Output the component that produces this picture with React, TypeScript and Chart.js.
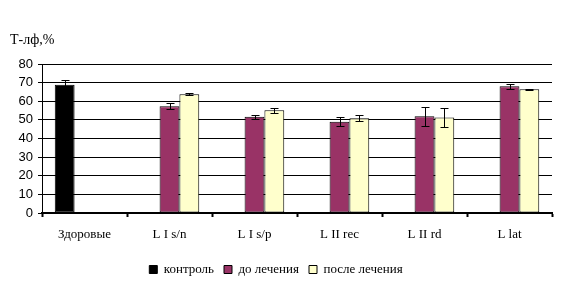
import React, { useEffect, useRef } from "react";
import { Chart, registerables } from "chart.js";

Chart.register(...registerables);

const categories = ["Здоровые", "L I s/n", "L I s/p", "L II rec", "L II rd", "L lat"];
const controlValues = [68.8, null, null, null, null, null];
const controlErrors = [2.5, 0, 0, 0, 0, 0];
const beforeValues = [null, 57.3, 51.7, 49.0, 51.9, 68.0];
const beforeErrors = [0, 1.5, 1.1, 2.3, 5.2, 1.2];
const afterValues = [null, 63.8, 55.2, 50.9, 51.3, 66.4];
const afterErrors = [0, 0.7, 1.4, 1.7, 5.2, 0.4];
const yTicks = [0, 10, 20, 30, 40, 50, 60, 70, 80];
const titleText = "Т-лф,%";

const errorsByDataset = [controlErrors, beforeErrors, afterErrors];
const SERIF = "'Liberation Serif', 'DejaVu Serif', serif";

const errorBarPlugin = {
  id: "errorBars",
  afterDatasetsDraw(chart: any) {
    const ctx = chart.ctx;
    const yScale = chart.scales.y;
    ctx.save();
    ctx.strokeStyle = "#000";
    ctx.lineWidth = 1;
    chart.data.datasets.forEach((ds: any, di: number) => {
      const meta = chart.getDatasetMeta(di);
      meta.data.forEach((el: any, i: number) => {
        const v = ds.data[i];
        const e = errorsByDataset[di][i];
        if (v == null || !e) return;
        const x = Math.round(el.x) + 0.5;
        const yt = Math.round(yScale.getPixelForValue(v + e)) + 0.5;
        const yb = Math.round(yScale.getPixelForValue(v - e)) + 0.5;
        ctx.beginPath();
        ctx.moveTo(x, yt);
        ctx.lineTo(x, yb);
        ctx.moveTo(x - 4, yt);
        ctx.lineTo(x + 4, yt);
        ctx.moveTo(x - 4, yb);
        ctx.lineTo(x + 4, yb);
        ctx.stroke();
      });
    });
    ctx.restore();
  },
};

const titlePlugin = {
  id: "cornerTitle",
  afterDraw(chart: any) {
    const ctx = chart.ctx;
    ctx.save();
    ctx.fillStyle = "#000";
    ctx.font = "14px " + SERIF;
    ctx.textBaseline = "alphabetic";
    ctx.textAlign = "left";
    ctx.fillText(titleText, 10, 44);
    ctx.restore();
  },
};

export default function App() {
  const ref = useRef<HTMLCanvasElement>(null);
  useEffect(() => {
    if (!ref.current) return;
    const chart = new Chart(ref.current, {
      type: "bar",
      data: {
        labels: categories,
        datasets: [
          {
            label: "контроль",
            data: controlValues,
            backgroundColor: "#000000",
            borderColor: "#000000",
            borderWidth: 1,
            borderSkipped: false,
          },
          {
            label: "до лечения",
            data: beforeValues,
            backgroundColor: "#993366",
            borderColor: "#000000",
            borderWidth: 1,
            borderSkipped: false,
          },
          {
            label: "после лечения",
            data: afterValues,
            backgroundColor: "#FFFFCC",
            borderColor: "#000000",
            borderWidth: 1,
            borderSkipped: false,
          },
        ] as any,
      },
      options: {
        animation: false,
        responsive: false,
        devicePixelRatio: 1,
        layout: { padding: { left: 0, right: 16, top: 64, bottom: 2 } },
        datasets: { bar: { categoryPercentage: 0.7, barPercentage: 1 } },
        plugins: {
          legend: {
            position: "bottom",
            labels: {
              boxWidth: 8,
              boxHeight: 8,
              padding: 10,
              color: "#000",
              font: { family: SERIF, size: 13 },
            },
          },
          tooltip: { enabled: false },
          title: { display: false },
        },
        scales: {
          x: {
            grid: {
              offset: true,
              drawOnChartArea: false,
              drawTicks: true,
              tickLength: 4,
              tickWidth: 2,
              tickColor: "#000",
            },
            border: { color: "#000", width: 2 },
            ticks: {
              color: "#000",
              padding: 10,
              font: { family: SERIF, size: 13 },
            },
            afterFit: (s: any) => {
              s.height = 40;
            },
          },
          y: {
            min: 0,
            max: 80,
            afterBuildTicks: (s: any) => {
              s.ticks = yTicks.map((v) => ({ value: v }));
            },
            grid: {
              color: "#000",
              lineWidth: 1,
              drawTicks: true,
              tickLength: 4,
              tickColor: "#000",
            },
            border: { color: "#000", width: 1 },
            ticks: {
              color: "#000",
              padding: 5,
              font: { family: "'Liberation Sans', Arial, sans-serif", size: 13 },
            },
            afterFit: (s: any) => {
              s.width = 42;
            },
          },
        },
      },
      plugins: [errorBarPlugin, titlePlugin],
    });
    return () => chart.destroy();
  }, []);
  return (
    <div style={{ position: "fixed", left: 0, top: 0, width: 568, height: 288, background: "#fff" }}>
      <canvas ref={ref} width={568} height={288} />
    </div>
  );
}
